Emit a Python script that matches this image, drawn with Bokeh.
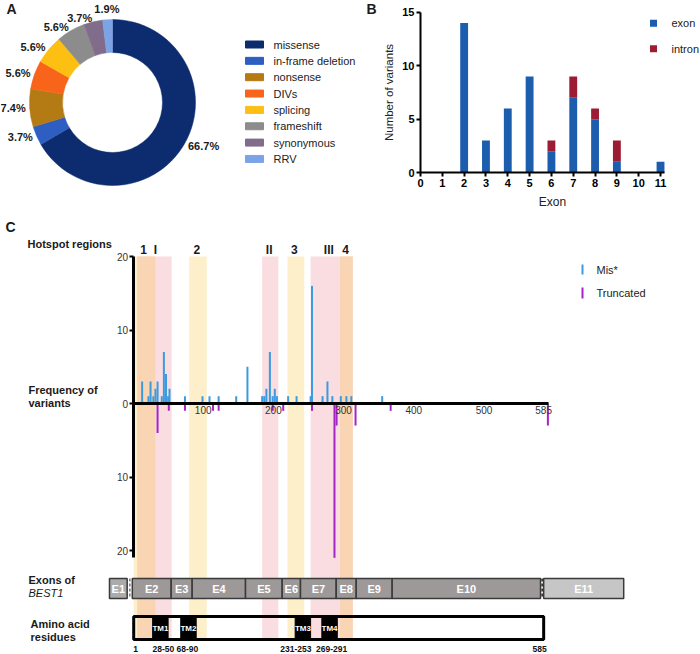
import math
from bokeh.plotting import figure
from bokeh.models import Range1d, LinearAxis, FixedTicker, CustomJSTickFormatter, ColumnDataSource
from bokeh.layouts import column, row
from bokeh.embed import file_html
from bokeh.resources import INLINE
from bokeh.core.properties import value

FONT = "Liberation Sans"
TXT = "#1a1a1a"

# ---------------- Panel A data ----------------
variant_types = ["missense", "in-frame deletion", "nonsense", "DIVs",
                 "splicing", "frameshift", "synonymous", "RRV"]
variant_pct = [66.7, 3.7, 7.4, 5.6, 5.6, 5.6, 3.7, 1.9]
variant_colors = ["#0D2C6F", "#2E5EC2", "#B47A14", "#F8651A",
                  "#FDBF12", "#8C8C8C", "#826C8C", "#7CA3E5"]

# ---------------- Panel B data ----------------
exon_numbers = [2, 3, 4, 5, 6, 7, 8, 9, 11]
exon_variants = [14, 3, 6, 9, 2, 7, 5, 1, 1]
intron_variants = [0, 0, 0, 0, 1, 2, 1, 2, 0]
exon_ticks = [0, 1, 2, 3, 4, 5, 6, 7, 8, 9, 10, 11]
count_ticks = [0, 5, 10, 15]

# ---------------- Panel C data ----------------
mis_pos = [13, 22, 25, 29, 32, 35, 41, 44, 47, 50, 52, 74, 99, 109, 122, 147, 163,
           184, 187, 190, 195, 199, 202, 205, 221, 233, 253, 255, 270, 277, 284,
           296, 304, 311, 355]
mis_count = [3, 1, 3, 1, 2, 3, 1, 7, 4, 1, 2, 1, 1, 1, 1, 1, 5,
             1, 1, 2, 7, 1, 2, 1, 1, 1, 1, 16, 1, 3, 1,
             1, 1, 1, 1]
trunc_pos = [35, 51, 74, 114, 122, 199, 214, 255, 287, 290, 317, 367, 591]
trunc_count = [4, 1, 1, 1, 1, 1, 1, 1, 21, 3, 3, 1, 3]

hot_num_names = ["1", "2", "3", "4"]
hot_num_start = [1, 80, 220, 295]
hot_num_end = [32, 105, 244, 313]
hot_rom_names = ["I", "II", "III"]
hot_rom_start = [6, 184, 253]
hot_rom_end = [55, 207, 313]
hot_label_names = ["1", "I", "2", "II", "3", "III", "4"]
hot_label_pos = [15, 32, 91, 194, 230, 279, 303]

exon_names = ["E1", "E2", "E3", "E4", "E5", "E6", "E7", "E8", "E9", "E10", "E11"]
exon_start = [-33.5, -1, 54.4, 84.3, 160.3, 212.5, 238.6, 289.5, 318, 369.2, 585]
exon_end = [-8.3, 54.4, 84.3, 160.3, 212.5, 238.6, 289.5, 318, 369.2, 580.5, 699]
exon_breaks = [-4.5, 582.8]

tm_names = ["TM1", "TM2", "TM3", "TM4"]
tm_start = [28, 68, 231, 269]
tm_end = [50, 90, 253, 291]
protein_len = 585
pos_ticks = [100, 200, 300, 400, 500, 585]
freq_ticks = [-20, -10, 0, 10, 20]


def base_fig(w, h, xr, yr):
    p = figure(width=w, height=h, x_range=Range1d(*xr), y_range=Range1d(*yr),
               output_backend="svg", toolbar_location=None,
               x_axis_location=None, y_axis_location=None, min_border=0)
    p.outline_line_color = None
    p.grid.visible = False
    p.background_fill_color = "white"
    p.border_fill_color = "white"
    return p


def txt(p, x, y, t, size="11px", style="normal", align="left", color=TXT, angle=0,
        baseline="middle", x_offset=0):
    p.text(x=x, y=y, text=t, text_font=value(FONT), text_font_size=size,
           text_font_style=style, text_align=align, text_baseline=baseline,
           text_color=color, angle=angle, x_offset=x_offset)


# ================= Panel A =================
A_W, A_H = 358, 212
pA = base_fig(A_W, A_H, (0, A_W), (0, A_H))


def ay(py):
    return A_H - py


A_CX, A_CY = 112, ay(102)
total = sum(variant_pct)
starts, ends, mids = [], [], []
acc = 0.0
for v in variant_pct:
    a0 = math.pi / 2 - 2 * math.pi * acc / total
    acc += v
    a1 = math.pi / 2 - 2 * math.pi * acc / total
    starts.append(a0)
    ends.append(a1)
    mids.append((a0 + a1) / 2)
srcA = ColumnDataSource(dict(kind=variant_types, pct=variant_pct, a0=starts,
                             a1=ends, color=variant_colors))
pA.annular_wedge(x=A_CX, y=A_CY, inner_radius=50, outer_radius=83,
                 start_angle="a0", end_angle="a1", direction="clock",
                 fill_color="color", line_color="color", line_width=0.5, source=srcA)

# percentage labels just outside the ring, aligned away from the ring
lab_r = 87
groups = {"left": ([], [], []), "right": ([], [], []), "center": ([], [], [])}
for m, v in zip(mids, variant_pct):
    c = math.cos(m)
    if c > 0.2:
        g, r = "left", lab_r
    elif c < -0.2:
        g, r = "right", lab_r
    else:
        g, r = "center", lab_r + 7
    groups[g][0].append(A_CX + r * math.cos(m))
    groups[g][1].append(A_CY + r * math.sin(m))
    groups[g][2].append(f"{v}%")
for g, (xs, ys, ts) in groups.items():
    if xs:
        txt(pA, xs, ys, ts, size="11px", style="bold", align=g)

legA_y = [ay(44 + 16.35 * i) for i in range(len(variant_types))]
pA.rect(x=254, y=legA_y, width=18, height=7, fill_color=variant_colors,
        line_color=variant_colors)
txt(pA, [273] * len(variant_types), legA_y, variant_types, size="11px", color="#222")
txt(pA, [6], [ay(8)], ["A"], size="14px", style="bold")

# ================= Panel B =================
B_W, B_H = 342, 212
B_X0, B_SX = 62, 21.82
B_Y0, B_SY = 172, 10.67


def bx(px):
    return (px - B_X0) / B_SX


def by(py):
    return (B_Y0 - py) / B_SY


pB = base_fig(B_W, B_H, (bx(0), bx(B_W)), (by(B_H), by(0)))
srcB = ColumnDataSource(dict(exon_no=exon_numbers, exon=exon_variants, intron=intron_variants))
pB.vbar_stack(["exon", "intron"], x="exon_no", width=0.36,
              fill_color=["#1C5DAD", "#9C1C33"], line_color=None, source=srcB)

xaxB = LinearAxis(fixed_location=0, bounds=(0, 11.2), ticker=FixedTicker(ticks=exon_ticks))
yaxB = LinearAxis(fixed_location=0, bounds=(0, 15), ticker=FixedTicker(ticks=count_ticks))
for ax in (xaxB, yaxB):
    ax.axis_line_width = 2
    ax.axis_line_color = "black"
    ax.major_tick_out = 4
    ax.major_tick_in = 0
    ax.major_tick_line_width = 2
    ax.minor_tick_out = 0
    ax.minor_tick_in = 0
    ax.major_label_text_font = FONT
    ax.major_label_text_font_size = "11px"
    ax.major_label_text_font_style = "bold"
    ax.major_label_text_color = "black"
    ax.major_label_standoff = 2
pB.add_layout(xaxB, "below")
pB.add_layout(yaxB, "left")
txt(pB, [bx(30)], [by(92)], ["Number of variants"], size="11.5px", align="center",
    color="#222", angle=math.pi / 2)
txt(pB, [bx(194)], [by(201)], ["Exon"], size="12px", align="center", color="#222")
legB_y = [by(22.7), by(48.3)]
pB.rect(x=bx(295), y=legB_y, width=7, height=7, width_units="screen",
        height_units="screen", fill_color=["#1C5DAD", "#9C1C33"], line_color=None)
txt(pB, [bx(313)] * 2, legB_y, ["exon", "intron"], size="11px", color="#222")
txt(pB, [bx(8)], [by(8)], ["B"], size="14px", style="bold")

# ================= Panel C =================
C_W, C_H = 700, 442
C_X0, C_SX = 132.5, 0.702
C_Y0, C_SY = 191, 7.35


def cx(px):
    return (px - C_X0) / C_SX


def cy(py):
    return (C_Y0 - py) / C_SY


pC = base_fig(C_W, C_H, (cx(0), cx(C_W)), (cy(C_H), cy(0)))

EXON_TOP, EXON_BOT = cy(366), cy(386)
RES_TOP, RES_BOT = cy(404), cy(427)

YELLOW, PINK, ORANGE = "#FDEFC9", "#F9DDE0", "#F9D5B3"
ov_s, ov_e = [], []
for a0, a1 in zip(hot_num_start, hot_num_end):
    for b0, b1 in zip(hot_rom_start, hot_rom_end):
        lo, hi = max(a0, b0), min(a1, b1)
        if lo < hi:
            ov_s.append(lo)
            ov_e.append(hi)
pC.quad(left=hot_num_start, right=hot_num_end, top=20, bottom=RES_BOT,
        fill_color=YELLOW, line_color=None)
pC.quad(left=hot_rom_start, right=hot_rom_end, top=20, bottom=RES_BOT,
        fill_color=PINK, line_color=None)
pC.quad(left=ov_s, right=ov_e, top=20, bottom=RES_BOT, fill_color=ORANGE, line_color=None)

# exons
exon_fill = ["#ABABAB"] + ["#9D9999"] * 9 + ["#C6C6C6"]
pC.quad(left=exon_start, right=exon_end, top=EXON_TOP, bottom=EXON_BOT,
        fill_color=exon_fill, line_color="#3a3a3a", line_width=1.5)
pC.segment(x0=exon_breaks, y0=EXON_TOP, x1=exon_breaks, y1=EXON_BOT,
           line_color=["#777777", "#222222"], line_width=1.5, line_dash="3 2")
txt(pC, [(s + e) / 2 for s, e in zip(exon_start, exon_end)], [(EXON_TOP + EXON_BOT) / 2] * 11,
    exon_names, size="11px", style="bold", align="center", color="white")

# residues
pC.quad(left=tm_start, right=tm_end, top=RES_TOP, bottom=RES_BOT,
        fill_color="black", line_color="black")
pC.quad(left=[1], right=[protein_len], top=RES_TOP, bottom=RES_BOT,
        fill_color=None, line_color="black", line_width=3)
txt(pC, [(s + e) / 2 for s, e in zip(tm_start, tm_end)], [(RES_TOP + RES_BOT) / 2] * 4,
    tm_names, size="8px", style="bold", align="center", color="white")
res_lab_x = [1] + [(s + e) / 2 for s, e in zip(tm_start, tm_end)] + [protein_len]
res_lab_t = ["1"] + [f"{s}-{e}" for s, e in zip(tm_start, tm_end)] + [str(protein_len)]
txt(pC, res_lab_x, [cy(436)] * len(res_lab_x), res_lab_t, size="8.5px", style="bold",
    align="center", color="#111", x_offset=[2, 3, -1, -7, 2, -4])

# lollipops
MIS, TRUNC = "#3A9BE0", "#A524C4"
pC.segment(x0=mis_pos, y0=0, x1=mis_pos, y1=mis_count, line_color=MIS, line_width=2)
pC.segment(x0=trunc_pos, y0=0, x1=trunc_pos, y1=[-c for c in trunc_count],
           line_color=TRUNC, line_width=2)

# axes
yaxC = LinearAxis(fixed_location=0, bounds=(-21, 20), ticker=FixedTicker(ticks=freq_ticks),
                  formatter=CustomJSTickFormatter(code="return Math.abs(tick).toString();"))
yaxC.major_tick_out = 4
yaxC.major_label_standoff = 1
xaxC = LinearAxis(fixed_location=0, bounds=(0, 592), ticker=FixedTicker(ticks=pos_ticks))
xaxC.major_tick_out = 0
xaxC.major_label_standoff = 2
for ax in (xaxC, yaxC):
    ax.axis_line_width = 3
    ax.axis_line_color = "black"
    ax.major_tick_in = 0
    ax.major_tick_line_width = 2
    ax.minor_tick_out = 0
    ax.minor_tick_in = 0
    ax.major_label_text_font = FONT
    ax.major_label_text_font_size = "10px"
    ax.major_label_text_color = "#333"
pC.add_layout(xaxC, "below")
pC.add_layout(yaxC, "left")

# hotspot labels and row titles
txt(pC, hot_label_pos, [cy(37)] * len(hot_label_pos), hot_label_names,
    size="12px", style="bold", align="center")
txt(pC, [cx(5)], [cy(14)], ["C"], size="14px", style="bold")
txt(pC, [cx(27)], [cy(31)], ["Hotspot regions"], size="11px", style="bold")
txt(pC, [cx(28)] * 2, [cy(177), cy(190)], ["Frequency of", "variants"], size="11px", style="bold")
txt(pC, [cx(28)], [cy(367)], ["Exons of"], size="11px", style="bold")
txt(pC, [cx(28)], [cy(380)], ["BEST1"], size="11px", style="italic")
txt(pC, [cx(30)] * 2, [cy(411), cy(424)], ["Amino acid", "residues"], size="11px", style="bold")

# legend C
legC_y0 = [cy(52), cy(75)]
legC_y1 = [cy(62), cy(86)]
pC.segment(x0=[cx(582)] * 2, y0=legC_y0, x1=[cx(582)] * 2, y1=legC_y1,
           line_color=[MIS, TRUNC], line_width=2)
txt(pC, [cx(596)] * 2, [cy(57), cy(80.5)], ["Mis*", "Truncated"], size="11px", color="#222")

layout = column(row(pA, pB), pC)
open("out.html", "w").write(file_html(layout, INLINE))
